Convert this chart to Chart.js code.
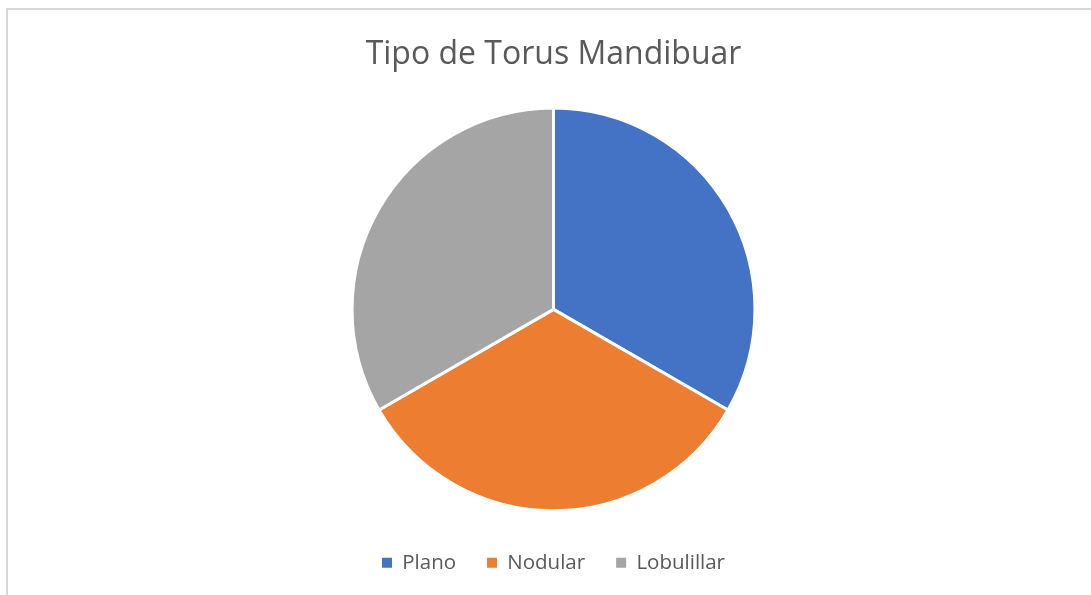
<!DOCTYPE html>
<html><head><meta charset="utf-8">
<script src="https://cdn.jsdelivr.net/npm/chart.js@4"></script>
<style>
html,body{margin:0;padding:0;background:#fff;overflow:hidden}
#frame{position:absolute;left:6px;top:8px;width:1200px;height:700px;border:2px solid #d9d9d9;box-sizing:border-box}
#wrap{position:absolute;left:0;top:0;width:1091px;height:595px}
</style></head><body>
<div id="frame"></div>
<div id="wrap"><canvas id="c"></canvas></div>
<script>
const chartTitle = "Tipo de Torus Mandibuar";
const categories = ["Plano", "Nodular", "Lobulillar"];
const values = [10, 10, 10];
const colors = ["#4472C4", "#ED7D31", "#A5A5A5"];

new Chart(document.getElementById('c'), {
  type: 'pie',
  data: {
    labels: categories,
    datasets: [{ data: values, backgroundColor: colors, borderColor: '#ffffff', borderWidth: 3 }]
  },
  options: {
    responsive: true,
    maintainAspectRatio: false,
    animation: false,
    layout: { padding: { left: 16, right: 0, top: 0, bottom: 12 } },
    plugins: {
      tooltip: { enabled: false },
      title: {
        display: true,
        text: chartTitle,
        color: '#595959',
        font: { family: 'Open Sans', size: 32, weight: 'normal' },
        padding: { top: 36, bottom: 32 }
      },
      legend: {
        position: 'bottom',
        title: { display: true, text: ' ', font: { size: 1 }, padding: { top: 8, bottom: 0 } },
        labels: {
          color: '#595959',
          font: { family: 'Open Sans', size: 20.5 },
          boxWidth: 10, boxHeight: 10,
          padding: 31,
          generateLabels: (chart) => categories.map((c, i) => ({
            text: c, fillStyle: colors[i], strokeStyle: colors[i], lineWidth: 0,
            fontColor: '#595959', hidden: false, index: i
          }))
        }
      }
    }
  }
});
</script>
</body></html>
